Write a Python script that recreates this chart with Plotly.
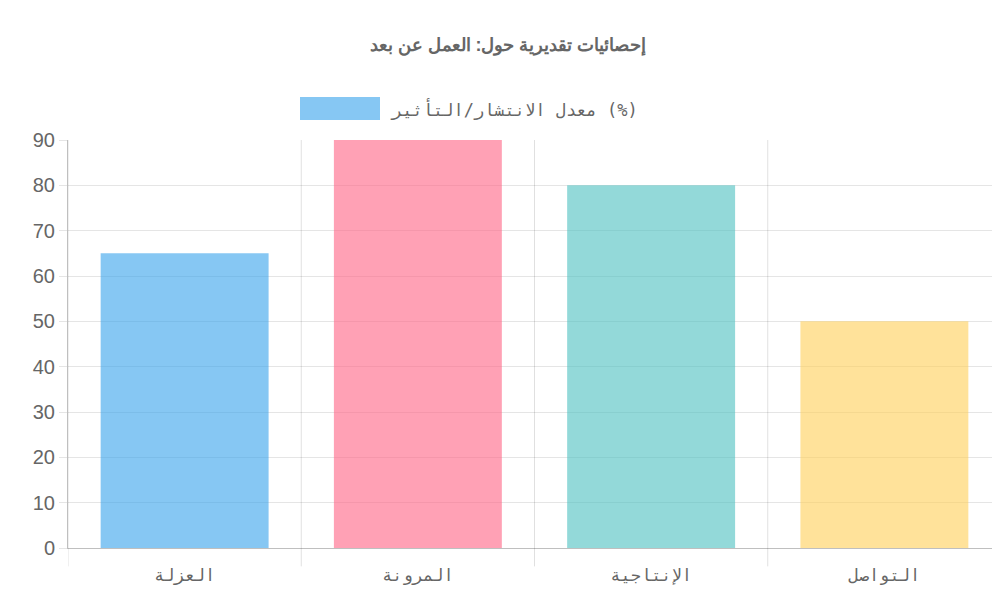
import plotly.graph_objects as go

categories = ["العزلة", "المرونة", "الإنتاجية", "التواصل"]
values = [65, 90, 80, 50]
series_name = "معدل الانتشار/التأثير (%)"
colors = ["rgba(54,162,235,0.6)", "rgba(255,99,132,0.6)",
          "rgba(75,192,192,0.6)", "rgba(255,206,86,0.6)"]

fig = go.Figure(go.Bar(
    x=categories, y=values, name=series_name,
    marker=dict(color=colors, line=dict(width=0)),
    width=0.72, showlegend=False,
))

# vertical grid lines between categories (Chart.js style)
shapes = []
for i in range(len(categories) + 1):
    shapes.append(dict(type="line", xref="x", yref="paper",
                       x0=i - 0.5, x1=i - 0.5, y0=-0.045, y1=1,
                       line=dict(color="rgba(0,0,0,0.12)", width=1), layer="below"))

# Chart.js-like legend: wide colour box + label
shapes.append(dict(type="rect", xref="paper", yref="paper",
                   x0=(292 - 60) / 933, x1=(372 - 60) / 933,
                   y0=(600 - 60 - 112) / 408, y1=(600 - 60 - 89) / 408,
                   fillcolor=colors[0], line=dict(width=0)))

fig.update_layout(
    width=1000, height=600,
    margin=dict(l=60, r=7, t=132, b=60, autoexpand=False),
    paper_bgcolor="white", plot_bgcolor="white",
    title=dict(text="<b>إحصائيات تقديرية حول: العمل عن بعد</b>", x=0.5, y=1 - 37 / 600,
               xanchor="center", yanchor="middle",
               font=dict(family="Liberation Sans", size=18, color="#666")),
    shapes=shapes,
    annotations=[dict(text=series_name, xref="paper", yref="paper",
                      x=(380 - 60) / 933, y=(600 - 60 - 101) / 408,
                      xanchor="left", yanchor="middle", showarrow=False,
                      font=dict(family="DejaVu Sans Mono", size=17, color="#666"))],
)
fig.update_xaxes(range=[-0.5, len(categories) - 0.5], showgrid=False,
                 showline=True, linecolor="rgba(0,0,0,0.25)", automargin=False,
                 tickfont=dict(family="DejaVu Sans Mono", size=17, color="#666"),
                 ticks="", ticklabelstandoff=12)
fig.update_yaxes(range=[0, 90], dtick=10, gridcolor="rgba(0,0,0,0.1)",
                 showline=True, linecolor="rgba(0,0,0,0.25)", automargin=False,
                 ticks="outside", ticklen=8, tickcolor="rgba(0,0,0,0.1)",
                 zeroline=False,
                 tickfont=dict(family="Liberation Sans", size=20, color="#666"))

fig.write_html("out.html")
